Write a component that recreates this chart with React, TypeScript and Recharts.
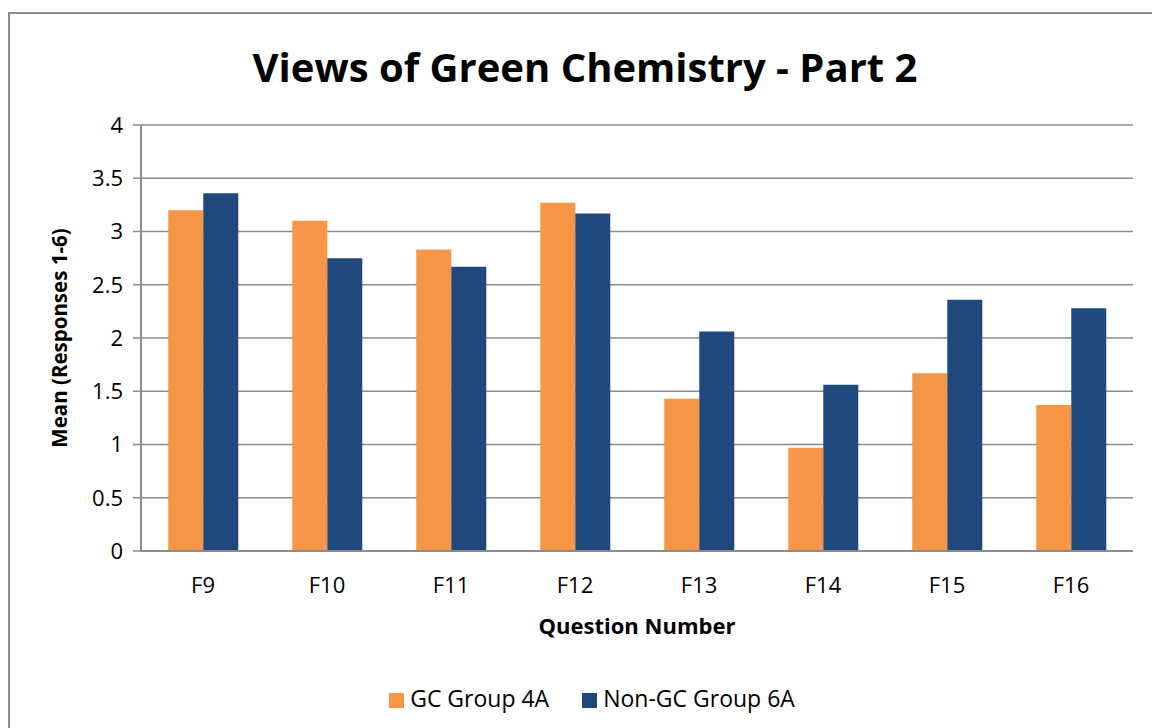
import React from 'react';
import { BarChart, Bar, XAxis, YAxis, CartesianGrid, Legend } from 'recharts';

const questions = ['F9', 'F10', 'F11', 'F12', 'F13', 'F14', 'F15', 'F16'];
const gcGroup4A = [3.2, 3.1, 2.83, 3.27, 1.43, 0.97, 1.67, 1.37];
const nonGcGroup6A = [3.36, 2.75, 2.67, 3.17, 2.06, 1.56, 2.36, 2.28];
const yTicks = [0, 0.5, 1, 1.5, 2, 2.5, 3, 3.5, 4];

const data = questions.map((q, i) => ({
  question: q,
  gc: gcGroup4A[i],
  nonGc: nonGcGroup6A[i],
}));

const font = '"Open Sans", "DejaVu Sans", sans-serif';

export default function App() {
  return (
    <div style={{ position: 'absolute', left: 0, top: 0, width: 1152, height: 728, background: '#fff', overflow: 'hidden', fontFamily: font }}>
      {/* chart border, runs off the right and bottom edges */}
      <div style={{ position: 'absolute', left: 8, top: 12, width: 1200, height: 800, border: '2px solid #8c8c8c', boxSizing: 'border-box' }} />
      <div style={{ position: 'absolute', left: 0, top: 39, width: 1170, textAlign: 'center', fontSize: 40, fontWeight: 700, color: '#000' }}>
        Views of Green Chemistry - Part 2
      </div>
      <div style={{ position: 'absolute', left: 0, top: 0 }}>
        <BarChart
          width={1152}
          height={728}
          data={data}
          margin={{ top: 125, right: 19, bottom: 0, left: 0 }}
          barCategoryGap="22%"
          barGap={0}
        >
          <CartesianGrid vertical={false} stroke="#8c8c8c" strokeWidth={1.5} />
          <XAxis
            dataKey="question"
            height={145}
            axisLine={{ stroke: '#8c8c8c', strokeWidth: 2 }}
            tickLine={false}
            tick={{ fontSize: 22, fill: '#000', fontFamily: font }}
            tickMargin={20}
            label={{ value: 'Question Number', position: 'insideTop', offset: 67, fontSize: 22, fontWeight: 700, fill: '#000', fontFamily: font }}
          />
          <YAxis
            width={141}
            domain={[0, 4]}
            ticks={yTicks}
            axisLine={{ stroke: '#8c8c8c', strokeWidth: 2 }}
            tickLine={{ stroke: '#8c8c8c', strokeWidth: 1.5 }}
            tickSize={8}
            tickMargin={10}
            tick={{ fontSize: 22, fill: '#000', fontFamily: font }}
            label={{ value: 'Mean (Responses 1-6)', angle: -90, position: 'insideLeft', offset: 60, style: { textAnchor: 'middle' }, fontSize: 20.5, fontWeight: 700, fill: '#000', fontFamily: font }}
          />
          <Legend
            verticalAlign="bottom"
            iconType="square"
            iconSize={15}
            wrapperStyle={{ bottom: 14, left: 0, width: 1217, fontSize: 23, fontFamily: font }}
            formatter={(value) => <span style={{ color: '#000', marginLeft: 2, marginRight: 23 }}>{value}</span>}
          />
          <Bar dataKey="gc" name="GC Group 4A" fill="#F79646" isAnimationActive={false} />
          <Bar dataKey="nonGc" name="Non-GC Group 6A" fill="#1F497D" isAnimationActive={false} />
        </BarChart>
      </div>
    </div>
  );
}
